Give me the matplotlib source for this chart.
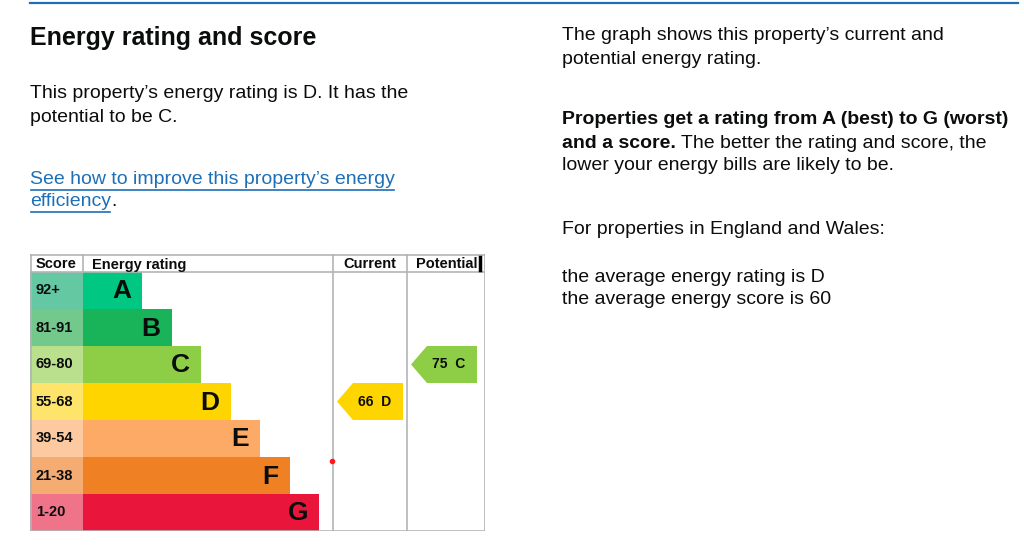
import matplotlib
matplotlib.use('Agg')
import matplotlib.pyplot as plt
from matplotlib.patches import Polygon

plt.rcParams['font.family'] = ['Liberation Sans', 'DejaVu Sans']

# ---------------- data ----------------
bands = ['A', 'B', 'C', 'D', 'E', 'F', 'G']
score_ranges = ['92+', '81-91', '69-80', '55-68', '39-54', '21-38', '1-20']
band_min = [92, 81, 69, 55, 39, 21, 1]
bar_colors = ['#00c781', '#19b459', '#8dce46', '#ffd500', '#fcaa65', '#ef8023', '#e9153b']
score_colors = ['#64c9a3', '#73c98c', '#bbe08d', '#ffe46b', '#fdc9a0', '#f4ac72', '#f07489']
current_score = 66
potential_score = 75
headers = ['Score', 'Energy rating', 'Current', 'Potential']

left_title = 'Energy rating and score'
left_para = ["This property\u2019s energy rating is D. It has the",
             "potential to be C."]
link_lines = ["See how to improve this property\u2019s energy", "efficiency"]
right_para1 = ["The graph shows this property\u2019s current and",
               "potential energy rating."]
right_bold = ["Properties get a rating from A (best) to G (worst)", "and a score."]
right_rest = [" The better the rating and score, the",
              "lower your energy bills are likely to be."]
right_para3 = ["For properties in England and Wales:"]
right_para4 = ["the average energy rating is D", "the average energy score is 60"]

BLUE = '#1d70b8'
GREY = '#b1b4b6'
INK = '#0b0c0c'
FS = 14


def band_of(score):
    for i, m in enumerate(band_min):
        if score >= m:
            return i
    return len(bands) - 1


fig = plt.figure(figsize=(10.24, 5.54), dpi=100)

# overlay axes in pixel units for the text
ax0 = fig.add_axes([0, 0, 1, 1])
ax0.set_xlim(0, 1024)
ax0.set_ylim(554, 0)
ax0.axis('off')

ax0.plot([30, 1018], [3, 3], color=BLUE, lw=1.6)

ax0.text(30, 38, left_title, fontsize=18, weight='bold', va='center', color=INK)
for i, line in enumerate(left_para):
    ax0.text(30, 93 + i * 24, line, fontsize=FS, va='center', color=INK)

fig.canvas.draw()
renderer = fig.canvas.get_renderer()
inv = ax0.transData.inverted()
for i, line in enumerate(link_lines):
    y = 180 + i * 22
    t = ax0.text(30, y, line, fontsize=FS, va='center', color=BLUE)
    bb = t.get_window_extent(renderer)
    x0b, x1 = inv.transform((bb.x0, bb.y0))[0], inv.transform((bb.x1, bb.y0))[0]
    ax0.plot([x0b + 1, x1 - 1], [y + 10, y + 10], color=BLUE, lw=1.2)
    if i == len(link_lines) - 1:
        ax0.text(x1, y, '.', fontsize=FS, va='center', color=INK)

for i, line in enumerate(right_para1):
    ax0.text(562, 35 + i * 24, line, fontsize=FS, va='center', color=INK)
ax0.text(562, 120, right_bold[0], fontsize=FS, weight='bold', va='center', color=INK)
tb = ax0.text(562, 143, right_bold[1], fontsize=FS, weight='bold', va='center', color=INK)
bb = tb.get_window_extent(renderer)
xb = inv.transform((bb.x1, bb.y0))[0]
ax0.text(xb, 143, right_rest[0], fontsize=FS, va='center', color=INK)
ax0.text(562, 166, right_rest[1], fontsize=FS, va='center', color=INK)
for i, line in enumerate(right_para3):
    ax0.text(562, 229 + i * 24, line, fontsize=FS, va='center', color=INK)
for i, line in enumerate(right_para4):
    ax0.text(562, 277 + i * 23, line, fontsize=FS, va='center', color=INK)

# ---------------- EPC chart ----------------
# chart axes: 455 x 277 px, header 18 px, rows 37 px
ax = fig.add_axes([30 / 1024, (554 - 531) / 554, 455 / 1024, 277 / 554])
ax.set_xlim(0, 455)
ax.set_ylim(277, 0)
ax.axis('off')

head_h, row_h = 18, 37
score_w, step = 53, 29.5
cur_x, pot_x, right_x = 303, 377, 455
rows_y = [head_h + row_h * (i + 0.5) for i in range(len(bands))]
lengths = [(i + 2) * step for i in range(len(bands))]

ax.barh(rows_y, score_w, left=0, height=row_h, color=score_colors, lw=0)
ax.barh(rows_y, lengths, left=score_w, height=row_h, color=bar_colors, lw=0)

for y, rng, L, b in zip(rows_y, score_ranges, lengths, bands):
    ax.text(6, y, rng, fontsize=10.5, weight='bold', va='center', color=INK)
    ax.text(score_w + L - 11, y + 1, b, fontsize=19, weight='bold',
            ha='right', va='center', color=INK)

# grid lines
lw = 1.2
ax.plot([0, right_x], [0.5, 0.5], color=GREY, lw=lw)
ax.plot([0, right_x], [head_h, head_h], color=GREY, lw=lw)
ax.plot([0, right_x], [276.5, 276.5], color=GREY, lw=lw)
ax.plot([0.5, 0.5], [0, 277], color=GREY, lw=lw)
ax.plot([score_w, score_w], [0, head_h], color=GREY, lw=lw)
for x in (cur_x, pot_x, right_x - 0.5):
    ax.plot([x, x], [0, 277], color=GREY, lw=lw)
ax.plot([450, 450], [3, 16], color='black', lw=2.5)

hx = [6, 62, 313, 386]
for x, h in zip(hx, headers):
    ax.text(x, 14.5, h, fontsize=10.5, weight='bold', va='baseline', color=INK)

# current / potential arrows
for score, x0 in ((current_score, cur_x), (potential_score, pot_x)):
    i = band_of(score)
    top = head_h + row_h * i
    bot = top + row_h
    tip, shoulder, end = x0 + 4, x0 + 20, x0 + 70
    poly = Polygon([(tip, (top + bot) / 2), (shoulder, top), (end, top),
                    (end, bot), (shoulder, bot)], closed=True,
                   facecolor=bar_colors[i], edgecolor='none')
    ax.add_patch(poly)
    ax.text((shoulder + end) / 2 - 3, (top + bot) / 2, f'{score}  {bands[i]}',
            fontsize=10, weight='bold', ha='center', va='center', color=INK)

ax.plot([cur_x - 1], [207], 'o', color='#ff1a1a', ms=3)

fig.savefig('out.png', dpi=100)
